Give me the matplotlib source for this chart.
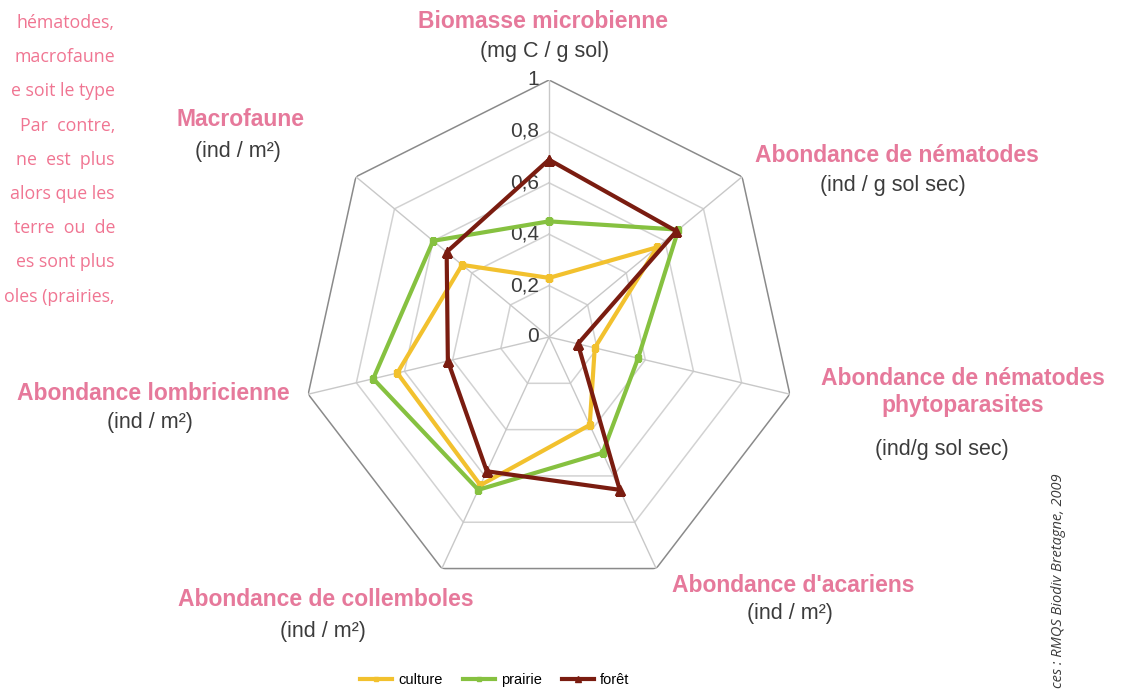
import numpy as np
import matplotlib
matplotlib.use('Agg')
from matplotlib import pyplot as plt

# axes of the radar, clockwise from the top
categories = ['Biomasse microbienne', 'Abondance de nématodes',
              'Abondance de nématodes\nphytoparasites', "Abondance d'acariens",
              'Abondance de collemboles', 'Abondance lombricienne', 'Macrofaune']
units = ['(mg C / g sol)', '(ind / g sol sec)', '(ind/g sol sec)', '(ind / m²)',
         '(ind / m²)', '(ind / m²)', '(ind / m²)']

culture = [0.23, 0.56, 0.19, 0.38, 0.64, 0.63, 0.45]
prairie = [0.45, 0.67, 0.37, 0.50, 0.66, 0.73, 0.60]
foret = [0.69, 0.66, 0.12, 0.66, 0.58, 0.42, 0.53]

ring_values = [0.2, 0.4, 0.6, 0.8, 1.0]
ring_labels = ['0', '0,2', '0,4', '0,6', '0,8', '1']

left_text = ['hématodes,', 'macrofaune', 'e soit le type', 'Par  contre,',
             'ne  est  plus', 'alors que les', 'terre  ou  de', 'es sont plus',
             'oles (prairies,']

W, H = 1128, 689
pink = '#e6799b'
dark = '#3c3c3c'

fig = plt.figure(figsize=(W / 100, H / 100), dpi=100)

cx, cy, rx, ry = 549, 337, 247, 257
ax = fig.add_axes([(cx - rx) / W, (H - cy - ry) / H, 2 * rx / W, 2 * ry / H],
                  projection='polar')
ax.set_aspect('auto')
ax.set_theta_zero_location('N')
ax.set_theta_direction(-1)
ax.set_ylim(0, 1)
ax.grid(False)
ax.set_xticks([])
ax.set_yticks([])
ax.spines['polar'].set_visible(False)
ax.patch.set_alpha(0)

n = len(categories)
angles = np.arange(n) * 2 * np.pi / n
closed = np.append(angles, angles[0])

# heptagon grid
for r in ring_values:
    col = '#8a8a8a' if r == 1.0 else '#d2d2d2'
    ax.plot(closed, [r] * (n + 1), color=col, lw=1.1, zorder=1)
for a in angles:
    ax.plot([a, a], [0, 1], color='#c8c8c8', lw=1.0, zorder=1)

for r, lab in zip([0] + ring_values, ring_labels):
    ax.annotate(lab, (0, r), xytext=(-7, 0), textcoords='offset points',
                ha='right', va='center', fontsize=15, color=dark,
                family='Liberation Sans', zorder=2)

def close(v):
    return list(v) + [v[0]]

ax.plot(closed, close(culture), color='#f2c12e', lw=3, marker='s', ms=4,
        zorder=3, label='culture')
ax.plot(closed, close(prairie), color='#86c140', lw=3, marker='s', ms=4,
        zorder=4, label='prairie')
ax.plot(closed, close(foret), color='#7a1c10', lw=3, marker='^', ms=7,
        zorder=5, label='forêt')

# category labels (title pink, unit grey)
title_pos = [(543, 22), (897, 155), (963, 392), (793, 585),
             (326, 600), (153, 393), (240, 120)]
unit_pos = [(545, 52), (893, 186), (942, 449), (790, 614),
            (323, 631), (150, 423), (238, 152)]
for t, u, (tx, ty), (ux, uy) in zip(categories, units, title_pos, unit_pos):
    fig.text(tx / W, 1 - ty / H, t, ha='center', va='center', fontsize=16.5,
             fontweight='bold', color=pink, family='Liberation Sans',
             linespacing=1.2)
    fig.text(ux / W, 1 - uy / H, u, ha='center', va='center', fontsize=15.5,
             color=dark, family='Liberation Sans')

# cut-off paragraph on the left
for i, line in enumerate(left_text):
    fig.text(115 / W, 1 - (23 + 34.2 * i) / H, line, ha='right', va='center',
             fontsize=12.8, color='#f07592', family='Open Sans')

# source, rotated on the right (cut at the bottom edge as in the original)
fig.text(1058 / W, 1 - 473 / H, 'ces : RMQS Biodiv Bretagne, 2009',
         rotation=90, ha='center', va='top', fontsize=10.5, style='italic',
         color=dark, family='Open Sans')

fig.legend(loc='center', bbox_to_anchor=(495 / W, 1 - 680 / H), ncol=3,
           frameon=False, handlelength=2.2, columnspacing=1.4,
           handletextpad=0.4, markerscale=0.6,
           prop={'family': 'Liberation Sans', 'size': 10.5})

fig.savefig('out.png', dpi=100, facecolor='white')
